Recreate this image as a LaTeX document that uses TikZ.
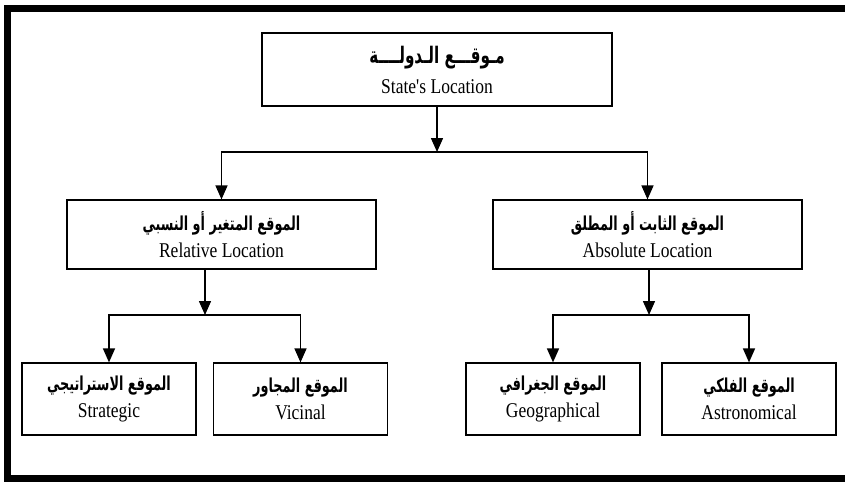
\documentclass[tikz,border=0pt]{standalone}
\usepackage{fontspec}
\setmainfont{Liberation Serif}
\newfontfamily\arabicfont[Script=Arabic]{DejaVu Sans}
\TeXXeTstate=1
\usetikzlibrary{arrows.meta}
\tikzset{
	diagram/.style={x=1pt,y=-1pt,>={Triangle[length=14pt,width=12pt]},line width=1.5pt},
	loc/.style={draw,line width=1.2pt,inner sep=0pt,align=center,
		font=\fontsize{17.5}{27}\selectfont},
	head/.style={loc,minimum width=350pt,minimum height=73pt,
		font=\fontsize{17.5}{30}\selectfont},
	wide/.style={loc,minimum width=309pt,minimum height=69pt},
	small/.style={loc,minimum width=174pt,minimum height=72pt},
	frame/.style={line width=7pt}
}
\newcommand{\artext}[2][16]{\scalebox{0.8}[1.2]{\arabicfont\bfseries\fontsize{#1}{20}\selectfont\beginR #2\endR}}
\newcommand{\entext}[1]{\scalebox{1}[1.2]{#1}}

\begin{document}
\begin{tikzpicture}[diagram]
		\useasboundingbox (0,0) rectangle (845,482);
		\draw[frame] (852,8) -- (7,8) -- (7,478.5) -- (852,478.5);
		
		\node[head] (state) at (437,69.5)
			{\artext[19]{مـوقـــع الـدولــــة}\\\entext{State\textquotesingle s Location}};
		\node[wide] (rel) at (221.5,234.5) {\artext{الموقع المتغير أو النسبي}\\\entext{Relative Location}};
		\node[wide] (abs) at (647.5,234.5) {\artext{الموقع الثابت أو المطلق}\\\entext{Absolute Location}};
		\node[small] (strat) at (109,399) {\artext{الموقع الاستراتيجي}\\\entext{Strategic}};
		\node[small] (vic) at (300.5,399) {\artext{الموقع المجاور}\\\entext{Vicinal}};
		\node[small] (geo) at (553,399) {\artext{الموقع الجغرافي}\\\entext{Geographical}};
		\node[small] (astro) at (749,399) {\artext{الموقع الفلكي}\\\entext{Astronomical}};
		
		\coordinate (top) at (437,152);
		\coordinate (lj) at (205,315);
		\coordinate (rj) at (649,315);
		
		\draw[->] (state) -- (top);
		\draw[->] (top) -| (rel);
		\draw[->] (top) -| (abs);
		\draw[->] (rel.south -| lj) -- (lj);
		\draw[->] (lj) -| (strat);
		\draw[->] (lj) -| (vic);
		\draw[->] (abs.south -| rj) -- (rj);
		\draw[->] (rj) -| (geo);
		\draw[->] (rj) -| (astro);
		
\end{tikzpicture}
\end{document}
